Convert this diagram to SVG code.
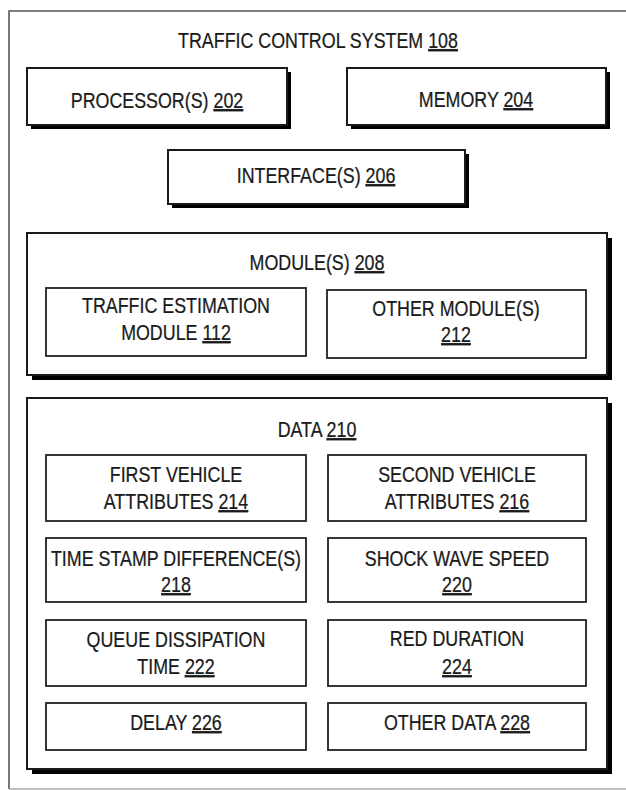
<svg xmlns="http://www.w3.org/2000/svg" width="626" height="790" viewBox="0 0 626 790">
  <style>
    .t { font-family: "Liberation Sans", Arial, sans-serif; font-size: 21.5px; fill: #1a1a1a; stroke: #1a1a1a; stroke-width: 0.25;
         text-anchor: middle; transform-box: fill-box; transform-origin: center; transform: scaleX(0.83); }
    .u { text-decoration: underline; }
    .box { fill: #fff; stroke: #1a1a1a; stroke-width: 2; }
    .inner { fill: #fff; stroke: #222; stroke-width: 1.8; }
    .shadow { fill: #000; }
  </style>
  <rect width="626" height="790" fill="#fff"/>

  <!-- outer system frame (open on the right) -->
  <g id="traffic-control-system">
    <path d="M9,789 V11 H626" fill="none" stroke="#555" stroke-width="1.6"/>
    <path d="M9,789 H626" fill="none" stroke="#aaa" stroke-width="1.4"/>
    <text class="t" x="318" y="48">TRAFFIC CONTROL SYSTEM <tspan class="u">108</tspan></text>
  </g>

  <g id="processor">
    <rect class="shadow" x="31" y="72" width="260" height="57"/>
    <rect class="box" x="27" y="68" width="260" height="57"/>
    <text class="t" x="157" y="108">PROCESSOR(S) <tspan class="u">202</tspan></text>
  </g>

  <g id="memory">
    <rect class="shadow" x="351" y="72" width="259" height="57"/>
    <rect class="box" x="347" y="68" width="259" height="57"/>
    <text class="t" x="476" y="107">MEMORY <tspan class="u">204</tspan></text>
  </g>

  <g id="interface">
    <rect class="shadow" x="172" y="154" width="297" height="54"/>
    <rect class="box" x="168" y="150" width="297" height="54"/>
    <text class="t" x="316" y="183">INTERFACE(S) <tspan class="u">206</tspan></text>
  </g>

  <g id="modules">
    <rect class="shadow" x="32" y="238" width="580" height="142"/>
    <rect class="box" x="27" y="233" width="580" height="142"/>
    <text class="t" x="317" y="270">MODULE(S) <tspan class="u">208</tspan></text>
  </g>

  <g id="traffic-estimation-module">
    <rect class="inner" x="46" y="288" width="260" height="68"/>
    <text class="t" x="176" y="313">TRAFFIC ESTIMATION</text>
    <text class="t" x="176" y="340">MODULE <tspan class="u">112</tspan></text>
  </g>

  <g id="other-modules">
    <rect class="inner" x="327" y="290" width="259" height="68"/>
    <text class="t" x="456" y="316">OTHER MODULE(S)</text>
    <text class="t" x="456" y="342"><tspan class="u">212</tspan></text>
  </g>

  <g id="data">
    <rect class="shadow" x="32" y="403" width="580" height="371"/>
    <rect class="box" x="27" y="398" width="580" height="371"/>
    <text class="t" x="317" y="437">DATA <tspan class="u">210</tspan></text>
  </g>

  <g id="first-vehicle-attributes">
    <rect class="inner" x="46" y="455" width="260" height="66"/>
    <text class="t" x="176" y="482">FIRST VEHICLE</text>
    <text class="t" x="176" y="509">ATTRIBUTES <tspan class="u">214</tspan></text>
  </g>

  <g id="second-vehicle-attributes">
    <rect class="inner" x="328" y="455" width="258" height="66"/>
    <text class="t" x="457" y="482">SECOND VEHICLE</text>
    <text class="t" x="457" y="509">ATTRIBUTES <tspan class="u">216</tspan></text>
  </g>

  <g id="time-stamp-differences">
    <rect class="inner" x="46" y="538" width="260" height="64"/>
    <text class="t" x="176" y="566">TIME STAMP DIFFERENCE(S)</text>
    <text class="t" x="176" y="592"><tspan class="u">218</tspan></text>
  </g>

  <g id="shock-wave-speed">
    <rect class="inner" x="328" y="538" width="258" height="64"/>
    <text class="t" x="457" y="566">SHOCK WAVE SPEED</text>
    <text class="t" x="457" y="592"><tspan class="u">220</tspan></text>
  </g>

  <g id="queue-dissipation-time">
    <rect class="inner" x="46" y="620" width="260" height="66"/>
    <text class="t" x="176" y="647">QUEUE DISSIPATION</text>
    <text class="t" x="176" y="674">TIME <tspan class="u">222</tspan></text>
  </g>

  <g id="red-duration">
    <rect class="inner" x="328" y="620" width="258" height="66"/>
    <text class="t" x="457" y="646">RED DURATION</text>
    <text class="t" x="457" y="674"><tspan class="u">224</tspan></text>
  </g>

  <g id="delay">
    <rect class="inner" x="46" y="703" width="260" height="47"/>
    <text class="t" x="176" y="730">DELAY <tspan class="u">226</tspan></text>
  </g>

  <g id="other-data">
    <rect class="inner" x="328" y="703" width="258" height="47"/>
    <text class="t" x="457" y="730">OTHER DATA <tspan class="u">228</tspan></text>
  </g>
</svg>
